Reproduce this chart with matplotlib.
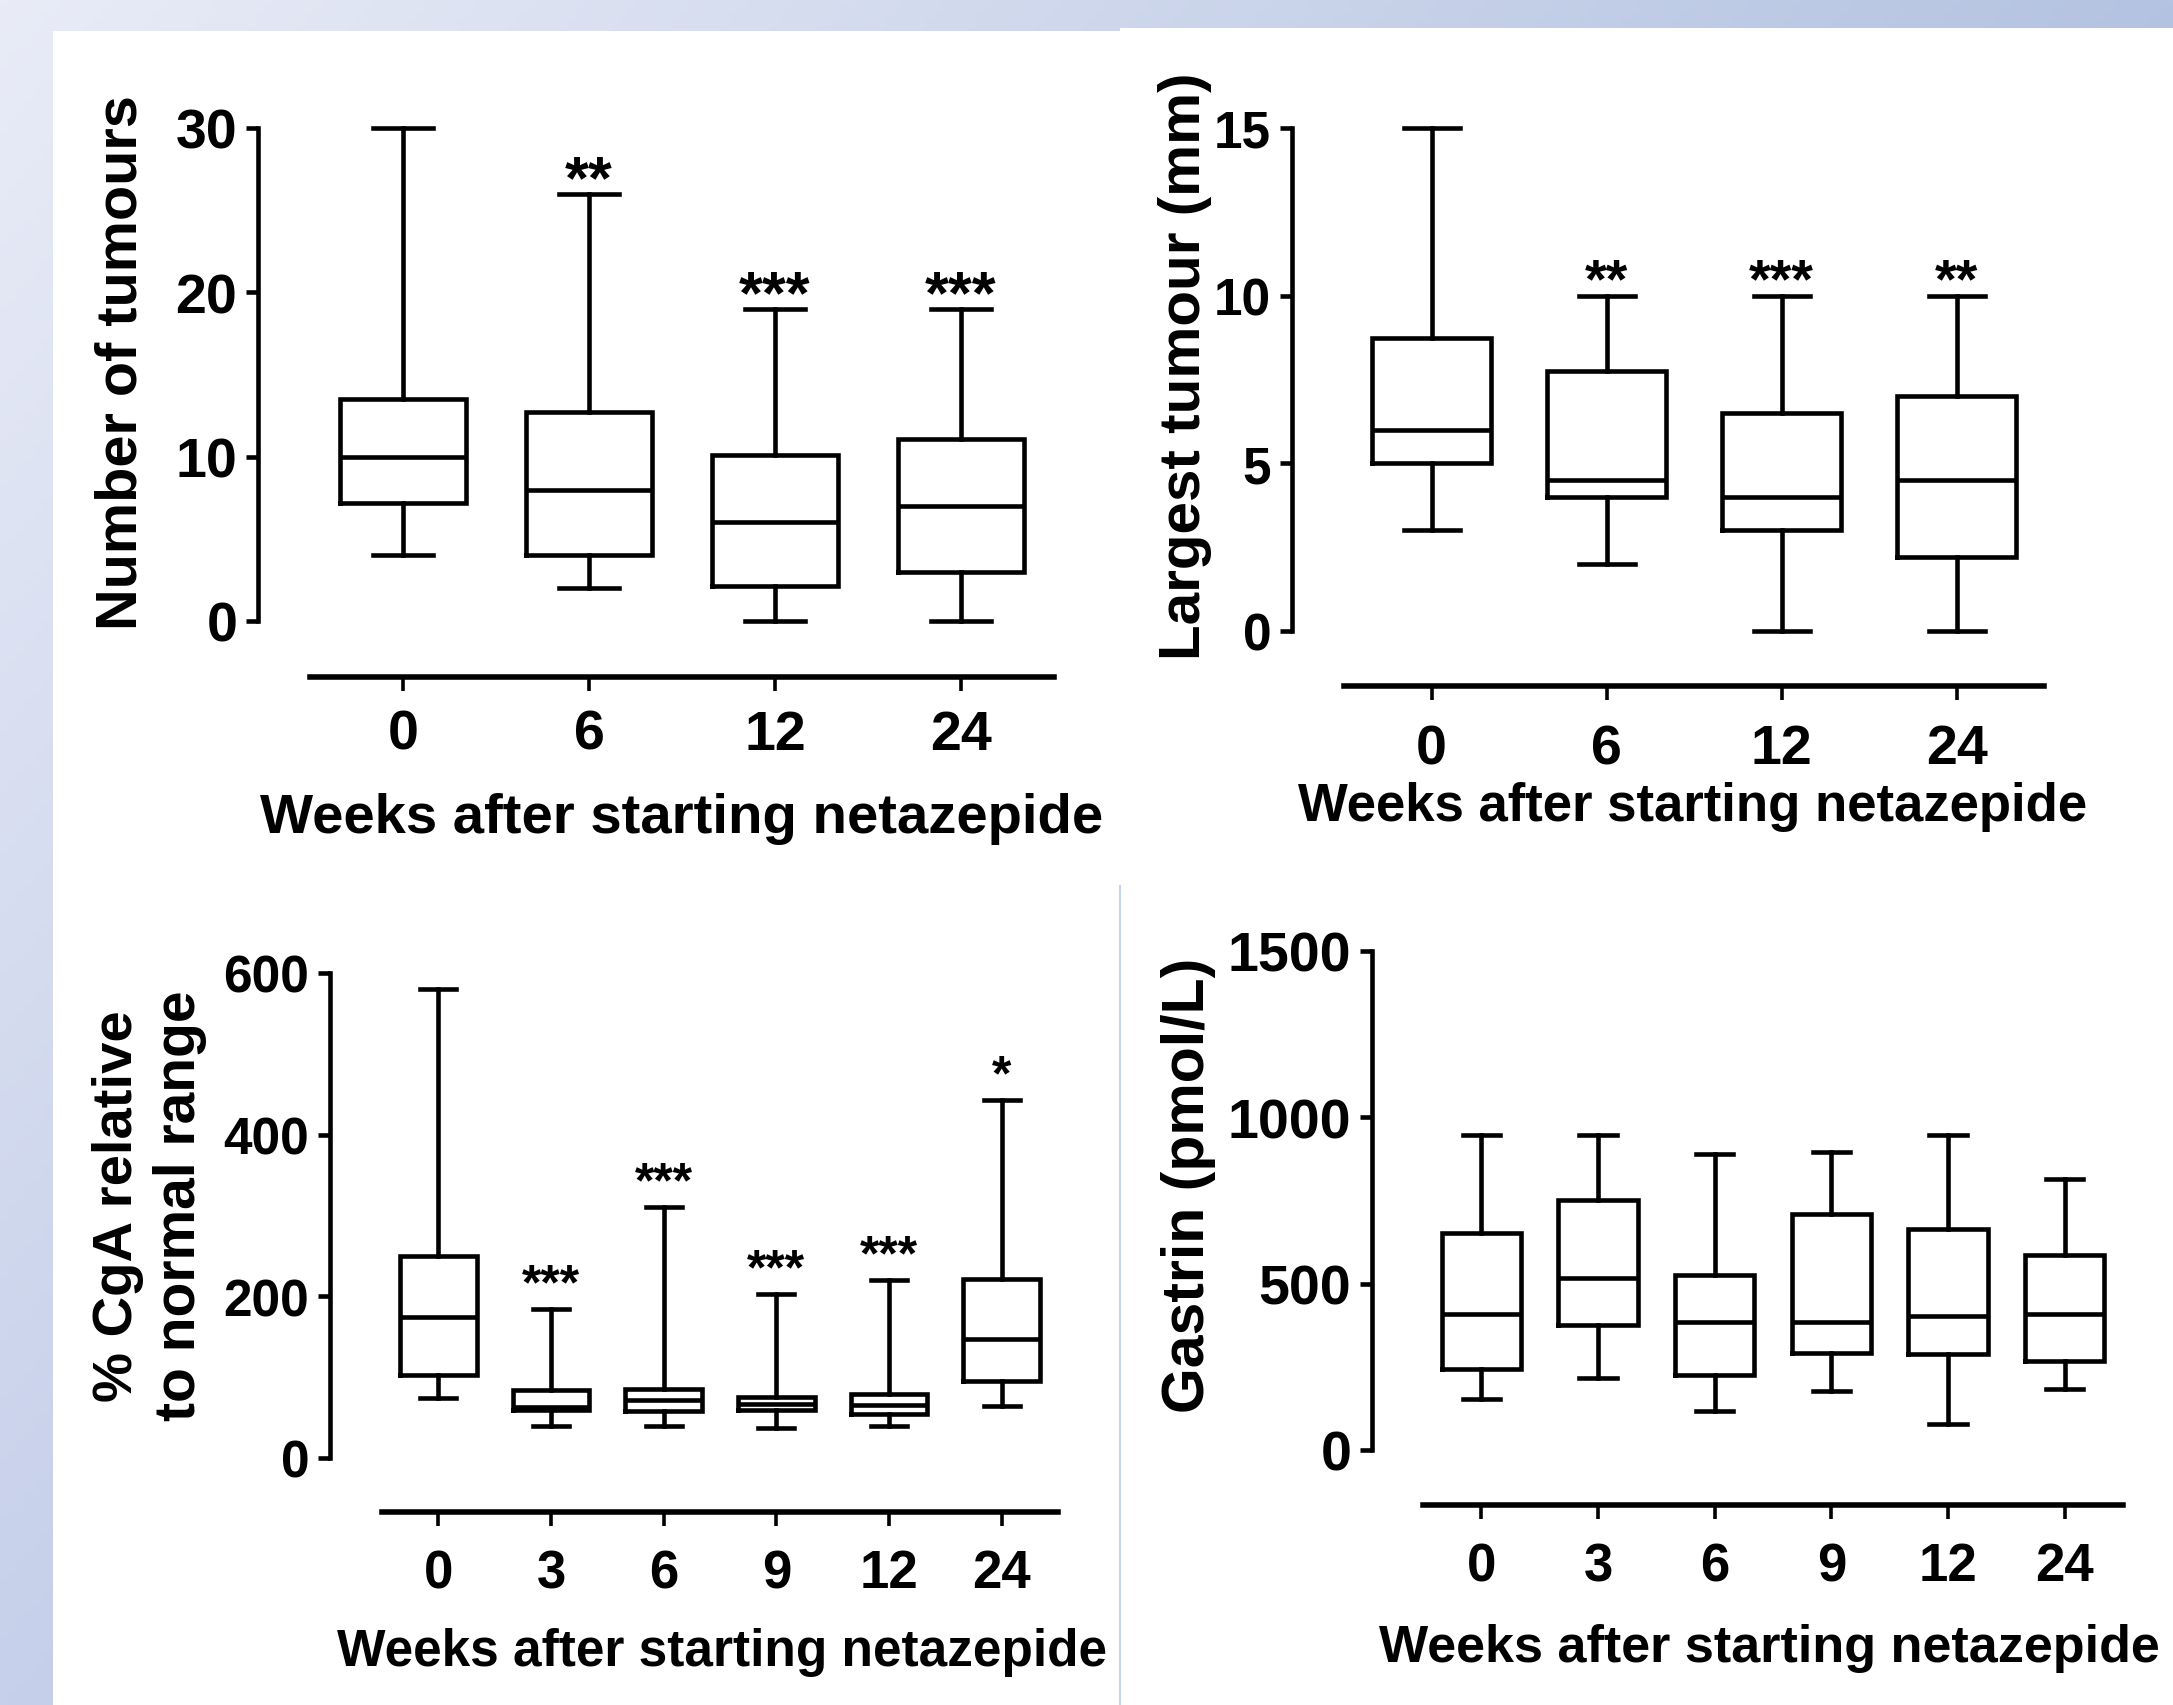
import numpy as np
import matplotlib.pyplot as plt
from matplotlib.patches import Rectangle

# figure size in pixels
W, H = 2173, 1706

# ---- data ----
# top left: number of tumours
weeks_a = ['0', '6', '12', '24']
tum_lo = [4, 2, 0, 0]
tum_q1 = [7.2, 4, 2.1, 3]
tum_med = [10, 8, 6, 7]
tum_q3 = [13.5, 12.7, 10.1, 11.1]
tum_hi = [30, 26, 19, 19]
tum_sig = ['', '**', '***', '***']

# top right: largest tumour (mm)
size_lo = [3, 2, 0, 0]
size_q1 = [5, 4, 3, 2.2]
size_med = [6, 4.5, 4, 4.5]
size_q3 = [8.75, 7.75, 6.5, 7]
size_hi = [15, 10, 10, 10]
size_sig = ['', '**', '***', '**']

# bottom left: % CgA
weeks_c = ['0', '3', '6', '9', '12', '24']
cga_lo = [74, 40, 40, 37, 40, 64]
cga_q1 = [103, 59, 58, 59, 55, 95]
cga_med = [174, 63, 72, 67, 66, 147]
cga_q3 = [250, 84, 85, 76, 79, 221]
cga_hi = [580, 184, 310, 203, 220, 443]
cga_sig = ['', '***', '***', '***', '***', '*']

# bottom right: gastrin
gas_lo = [152, 217, 118, 177, 77, 183]
gas_q1 = [243, 375, 225, 291, 289, 269]
gas_med = [408, 518, 385, 385, 403, 408]
gas_q3 = [651, 751, 526, 709, 665, 585]
gas_hi = [948, 948, 889, 897, 948, 815]
gas_sig = ['', '', '', '', '', '']

LW = 3.3
BOLD = ['Liberation Sans', 'DejaVu Sans']
NARROW = ['Liberation Sans Narrow', 'Liberation Sans', 'DejaVu Sans']


def px_axes(fig, left, right, y0, ytop):
    # axes placed by pixel coordinates (y measured from the top)
    return fig.add_axes([left / W, 1 - y0 / H, (right - left) / W, (y0 - ytop) / H])


def panel(ax, lo, q1, med, q3, hi, labels, yticks, sig, out_l, out_b,
          ysize, xsize, xpad, xfam, starsize, stardy):
    '''
    Prism style box and whisker plot (min to max whiskers)
    '''
    stats = [dict(whislo=a, q1=b, med=c, q3=d, whishi=e)
             for a, b, c, d, e in zip(lo, q1, med, q3, hi)]
    n = len(stats)
    line = dict(color='black', lw=LW, solid_joinstyle='miter')
    art = ax.bxp(stats, positions=range(n), widths=0.68, capwidths=0.32,
                 showfliers=False, boxprops=line, whiskerprops=line,
                 capprops=line, medianprops=line, manage_ticks=False)
    for key in art:
        for a in art[key]:
            a.set_clip_on(False)

    ax.set_xlim(-0.5, n - 0.5)
    ax.set_ylim(0, yticks[-1])
    ax.set_yticks(yticks)
    ax.set_xticks(range(n))
    ax.set_xticklabels(labels)
    ax.patch.set_visible(False)

    for s in ['top', 'right']:
        ax.spines[s].set_visible(False)
    ax.spines['left'].set_position(('outward', out_l * 0.72))
    ax.spines['bottom'].set_position(('outward', out_b * 0.72))
    ax.spines['left'].set_linewidth(LW)
    ax.spines['bottom'].set_linewidth(4)

    ax.tick_params(axis='y', length=9, width=LW, pad=6)
    ax.tick_params(axis='x', length=10, width=2.6, pad=xpad)
    for t in ax.get_yticklabels():
        t.set_fontsize(ysize)
        t.set_fontweight('bold')
        t.set_family(BOLD)
    for t in ax.get_xticklabels():
        t.set_fontsize(xsize)
        t.set_fontweight('bold')
        t.set_family(xfam)

    # significance stars above the whiskers
    for i, s in enumerate(sig):
        if s:
            ax.annotate(s, (i, hi[i]), xytext=(0, stardy), textcoords='offset points',
                        ha='center', va='center', fontsize=starsize,
                        fontweight='bold', family=BOLD, annotation_clip=False)


fig = plt.figure(figsize=(W / 100, H / 100), dpi=100)

# slide background: bluish gradient with white panels on top
bg = fig.add_axes([0, 0, 1, 1], zorder=-10)
gx = np.linspace(0, 1, 256)
gy = np.linspace(0, 1, 256)
c00 = np.array([233, 236, 247]) / 255
c10 = np.array([180, 195, 225]) / 255
c01 = np.array([198, 208, 234]) / 255
grad = c00 + (c10 - c00) * gx[None, :, None] + (c01 - c00) * gy[:, None, None]
bg.imshow(grad, extent=[0, W, H, 0], aspect='auto')
bg.add_patch(Rectangle((53, 32), 1120 - 53, H - 32, color='white', lw=0))
bg.add_patch(Rectangle((1120, 29), W - 1120, H - 29, color='white', lw=0))
bg.plot([1120, 1120], [887, H], color='#c5d4ef', lw=1.5)
bg.set_xlim(0, W)
bg.set_ylim(H, 0)
bg.axis('off')

# top left
ax1 = px_axes(fig, 310, 1054, 622, 129)
panel(ax1, tum_lo, tum_q1, tum_med, tum_q3, tum_hi, weeks_a, [0, 10, 20, 30],
      tum_sig, 52, 56, 40, 40, 13, BOLD, 44, 9)
fig.text(122 / W, 1 - 363 / H, 'Number of tumours', rotation=90, ha='center',
         va='center', fontsize=41.5, fontweight='bold', family=BOLD)
fig.text(682 / W, 1 - 819 / H, 'Weeks after starting netazepide', ha='center',
         va='center', fontsize=40.5, fontweight='bold', family=BOLD)

# top right
ax2 = px_axes(fig, 1344, 2044, 632, 129)
panel(ax2, size_lo, size_q1, size_med, size_q3, size_hi, weeks_a, [0, 5, 10, 15],
      size_sig, 52, 55, 37, 40, 17, BOLD, 40, 10)
fig.text(1185 / W, 1 - 366 / H, 'Largest tumour (mm)', rotation=90, ha='center',
         va='center', fontsize=42, fontweight='bold', family=BOLD)
fig.text(1693 / W, 1 - 807 / H, 'Weeks after starting netazepide', ha='center',
         va='center', fontsize=38, fontweight='bold', family=BOLD)

# bottom left
ax3 = px_axes(fig, 382, 1058, 1459, 974)
panel(ax3, cga_lo, cga_q1, cga_med, cga_q3, cga_hi, weeks_c, [0, 200, 400, 600],
      cga_sig, 52, 54, 37, 38, 16, NARROW, 36, 17)
fig.text(118 / W, 1 - 1206 / H, '% CgA relative', rotation=90, ha='center',
         va='center', fontsize=40.5, fontweight='bold', family=BOLD)
fig.text(180 / W, 1 - 1206 / H, 'to normal range', rotation=90, ha='center',
         va='center', fontsize=41, fontweight='bold', family=BOLD)
fig.text(722 / W, 1 - 1653 / H, 'Weeks after starting netazepide', ha='center',
         va='center', fontsize=37, fontweight='bold', family=BOLD)

# bottom right
ax4 = px_axes(fig, 1423, 2123, 1451, 952)
panel(ax4, gas_lo, gas_q1, gas_med, gas_q3, gas_hi, weeks_c, [0, 500, 1000, 1500],
      gas_sig, 51, 55, 40, 38, 16, NARROW, 36, 14)
fig.text(1189 / W, 1 - 1185 / H, 'Gastrin (pmol/L)', rotation=90, ha='center',
         va='center', fontsize=42.5, fontweight='bold', family=BOLD)
fig.text(1769 / W, 1 - 1649 / H, 'Weeks after starting netazepide', ha='center',
         va='center', fontsize=37.5, fontweight='bold', family=BOLD)

fig.savefig('out.png', dpi=100)
